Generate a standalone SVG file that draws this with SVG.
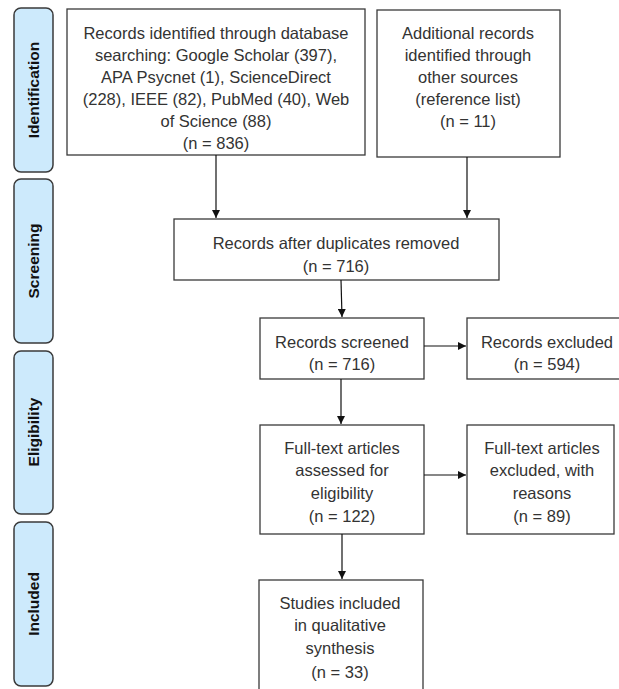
<svg xmlns="http://www.w3.org/2000/svg" width="619" height="689" viewBox="0 0 619 689">
<style>
.box{fill:#fff;stroke:#3a3a3a;stroke-width:1.3}
.side{fill:#cdeafc;stroke:#3a3a3a;stroke-width:1.5}
.t{font-family:"Liberation Sans",Arial,sans-serif;font-size:16.5px;fill:#333;text-anchor:middle}
.s{font-family:"Liberation Sans",Arial,sans-serif;font-size:15.5px;font-weight:bold;fill:#111;text-anchor:middle}
.c{stroke:#111;stroke-width:1.2;fill:none;marker-end:url(#ah)}
</style>
<defs>
<marker id="ah" viewBox="0 0 10 10" refX="10" refY="5" markerWidth="8" markerHeight="8" markerUnits="userSpaceOnUse" orient="auto">
<path d="M0,0 L10,5 L0,10 z" fill="#111"/>
</marker>
</defs>
<rect width="619" height="689" fill="#fff"/>
<g id="phase-identification"><rect class="side" x="14" y="8" width="39" height="164" rx="7"/><text class="s" transform="translate(39,90) rotate(-90)">Identification</text></g>
<g id="phase-screening"><rect class="side" x="14" y="179" width="39" height="164" rx="7"/><text class="s" transform="translate(39,261) rotate(-90)">Screening</text></g>
<g id="phase-eligibility"><rect class="side" x="14" y="351" width="39" height="163" rx="7"/><text class="s" transform="translate(39,432) rotate(-90)">Eligibility</text></g>
<g id="phase-included"><rect class="side" x="14" y="522" width="39" height="164" rx="7"/><text class="s" transform="translate(39,604) rotate(-90)">Included</text></g>

<g id="db-records"><rect class="box" x="67" y="9" width="298" height="146"/>
<text class="t" x="216" y="39">Records identified through database</text>
<text class="t" x="216" y="61">searching: Google Scholar (397),</text>
<text class="t" x="216" y="83">APA Psycnet (1), ScienceDirect</text>
<text class="t" x="216" y="105">(228), IEEE (82), PubMed (40), Web</text>
<text class="t" x="216" y="127">of Science (88)</text>
<text class="t" x="216" y="149">(n = 836)</text></g>

<g id="other-records"><rect class="box" x="377" y="10" width="183" height="147"/>
<text class="t" x="468" y="39">Additional records</text>
<text class="t" x="468" y="61">identified through</text>
<text class="t" x="468" y="83">other sources</text>
<text class="t" x="468" y="105">(reference list)</text>
<text class="t" x="468" y="127">(n = 11)</text></g>

<g id="dedup"><rect class="box" x="174" y="219" width="325" height="61"/>
<text class="t" x="336" y="249">Records after duplicates removed</text>
<text class="t" x="336" y="272">(n = 716)</text></g>

<g id="screened"><rect class="box" x="260" y="318" width="164" height="61"/>
<text class="t" x="342" y="348">Records screened</text>
<text class="t" x="342" y="370">(n = 716)</text></g>

<g id="excluded"><rect class="box" x="467" y="318" width="160" height="61"/>
<text class="t" x="547" y="348">Records excluded</text>
<text class="t" x="547" y="370">(n = 594)</text></g>

<g id="fulltext"><rect class="box" x="260" y="425" width="164" height="109"/>
<text class="t" x="342" y="454">Full-text articles</text>
<text class="t" x="342" y="476">assessed for</text>
<text class="t" x="342" y="499">eligibility</text>
<text class="t" x="342" y="522">(n = 122)</text></g>

<g id="fulltext-excluded"><rect class="box" x="467" y="425" width="147" height="109"/>
<text class="t" x="542" y="454">Full-text articles</text>
<text class="t" x="542" y="476">excluded, with</text>
<text class="t" x="542" y="499">reasons</text>
<text class="t" x="542" y="522">(n = 89)</text></g>

<g id="included"><rect class="box" x="259" y="580" width="164" height="120"/>
<text class="t" x="340" y="609">Studies included</text>
<text class="t" x="340" y="631">in qualitative</text>
<text class="t" x="340" y="654">synthesis</text>
<text class="t" x="340" y="678">(n = 33)</text></g>

<g id="connectors">
<line class="c" x1="216" y1="155" x2="216" y2="218"/>
<line class="c" x1="467" y1="157" x2="467" y2="218"/>
<line class="c" x1="341" y1="280" x2="342" y2="317"/>
<line class="c" x1="424" y1="346" x2="466" y2="346"/>
<line class="c" x1="341" y1="379" x2="341" y2="424"/>
<line class="c" x1="424" y1="475" x2="466" y2="475"/>
<line class="c" x1="342" y1="534" x2="342" y2="579"/>
</g>
</svg>
